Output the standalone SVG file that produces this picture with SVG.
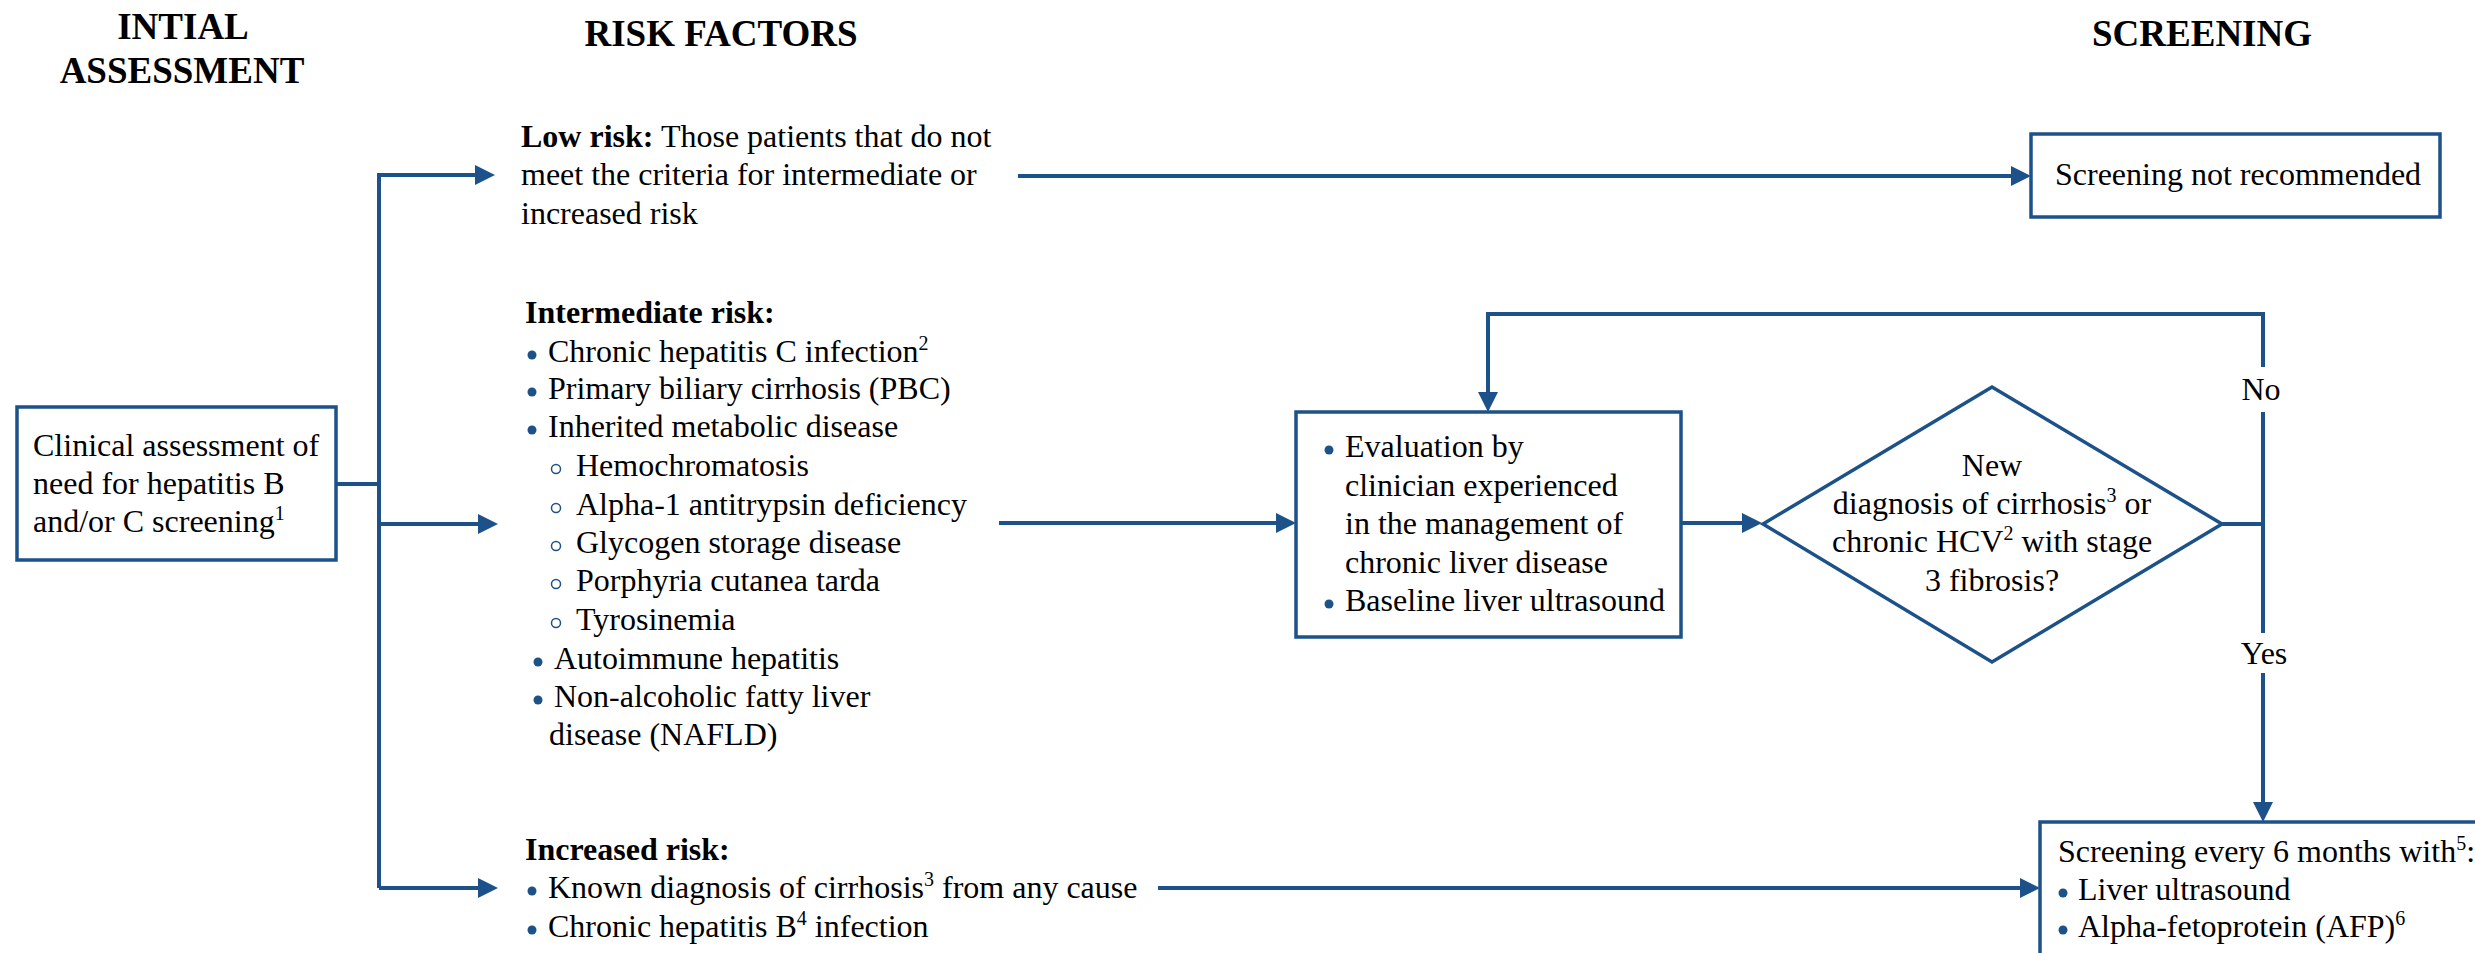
<svg xmlns="http://www.w3.org/2000/svg" width="2475" height="953" viewBox="0 0 2475 953">
<style>
text{font-family:"Liberation Serif","Times New Roman",serif;font-size:32px;fill:#000}
.h{font-weight:bold;font-size:37px;text-anchor:middle}
.b{font-weight:bold}
.c{text-anchor:middle}
.box{fill:#fff;stroke:#1c5289;stroke-width:3.5}
.ln{fill:none;stroke:#1c5289;stroke-width:4}
.dot{fill:#1c5289}
.ring{fill:none;stroke:#1c5289;stroke-width:1.5}
</style>
<defs>
<marker id="ah" markerUnits="userSpaceOnUse" viewBox="0 0 20 20" markerWidth="20" markerHeight="20" refX="14" refY="10" orient="auto">
<path d="M0,0 L20,10 L0,20 Z" fill="#1c5289"/>
</marker>
</defs>
<rect width="2475" height="953" fill="#fff"/>

<g id="headers">
<text class="h" x="183" y="39">INTIAL</text>
<text class="h" x="182" y="83">ASSESSMENT</text>
<text class="h" x="721" y="46">RISK FACTORS</text>
<text class="h" x="2202" y="46">SCREENING</text>
</g>

<g id="connectors">
<path class="ln" d="M336,484 H379"/>
<path class="ln" d="M379,175 V888"/>
<path class="ln" d="M377,175 H489" marker-end="url(#ah)"/>
<path class="ln" d="M379,524 H492" marker-end="url(#ah)"/>
<path class="ln" d="M379,888 H492" marker-end="url(#ah)"/>
<path class="ln" d="M1018,176 H2025" marker-end="url(#ah)"/>
<path class="ln" d="M999,523 H1290" marker-end="url(#ah)"/>
<path class="ln" d="M1158,888 H2034" marker-end="url(#ah)"/>
<path class="ln" d="M1681,523 H1756" marker-end="url(#ah)"/>
<path class="ln" d="M2222,524 H2263"/>
<path class="ln" d="M2263,367 V314 H1488 V406" marker-end="url(#ah)"/>
<path class="ln" d="M2263,412 V633"/>
<path class="ln" d="M2263,673 V816" marker-end="url(#ah)"/>
<text class="c" x="2261" y="400">No</text>
<text class="c" x="2264" y="664">Yes</text>
</g>

<g id="clinical">
<rect class="box" x="17" y="407" width="319" height="153"/>
<text x="33" y="456">Clinical assessment of</text>
<text x="33" y="494">need for hepatitis B</text>
<text x="33" y="532">and/or C screening<tspan dy="-12" font-size="20">1</tspan></text>
</g>

<g id="low-risk">
<text x="521" y="147"><tspan class="b">Low risk:</tspan> Those patients that do not</text>
<text x="521" y="185">meet the criteria for intermediate or</text>
<text x="521" y="224">increased risk</text>
</g>

<g id="intermediate-risk">
<text class="b" x="525" y="323">Intermediate risk:</text>
<circle class="dot" cx="532" cy="355" r="4.5"/>
<text x="548" y="362">Chronic hepatitis C infection<tspan dy="-12" font-size="20">2</tspan></text>
<circle class="dot" cx="532" cy="392" r="4.5"/>
<text x="548" y="399">Primary biliary cirrhosis (PBC)</text>
<circle class="dot" cx="532" cy="430" r="4.5"/>
<text x="548" y="437">Inherited metabolic disease</text>
<circle class="ring" cx="556" cy="469" r="4.5"/>
<text x="576" y="476">Hemochromatosis</text>
<circle class="ring" cx="556" cy="508" r="4.5"/>
<text x="576" y="515">Alpha-1 antitrypsin deficiency</text>
<circle class="ring" cx="556" cy="546" r="4.5"/>
<text x="576" y="553">Glycogen storage disease</text>
<circle class="ring" cx="556" cy="584" r="4.5"/>
<text x="576" y="591">Porphyria cutanea tarda</text>
<circle class="ring" cx="556" cy="623" r="4.5"/>
<text x="576" y="630">Tyrosinemia</text>
<circle class="dot" cx="538" cy="662" r="4.5"/>
<text x="554" y="669">Autoimmune hepatitis</text>
<circle class="dot" cx="538" cy="700" r="4.5"/>
<text x="554" y="707">Non-alcoholic fatty liver</text>
<text x="549" y="745">disease (NAFLD)</text>
</g>

<g id="increased-risk">
<text class="b" x="525" y="860">Increased risk:</text>
<circle class="dot" cx="532" cy="891" r="4.5"/>
<text x="548" y="898">Known diagnosis of cirrhosis<tspan dy="-12" font-size="20">3</tspan><tspan dy="12"> from any cause</tspan></text>
<circle class="dot" cx="532" cy="930" r="4.5"/>
<text x="548" y="937">Chronic hepatitis B<tspan dy="-12" font-size="20">4</tspan><tspan dy="12"> infection</tspan></text>
</g>

<g id="evaluation">
<rect class="box" x="1296" y="412" width="385" height="225"/>
<circle class="dot" cx="1329" cy="450" r="4.5"/>
<text x="1345" y="457">Evaluation by</text>
<text x="1345" y="496">clinician experienced</text>
<text x="1345" y="534">in the management of</text>
<text x="1345" y="573">chronic liver disease</text>
<circle class="dot" cx="1329" cy="604" r="4.5"/>
<text x="1345" y="611">Baseline liver ultrasound</text>
</g>

<g id="decision">
<polygon class="box" points="1992,387 2222,524 1992,662 1763,524"/>
<text class="c" x="1992" y="476">New</text>
<text class="c" x="1992" y="514">diagnosis of cirrhosis<tspan dy="-12" font-size="20">3</tspan><tspan dy="12"> or</tspan></text>
<text class="c" x="1992" y="552">chronic HCV<tspan dy="-12" font-size="20">2</tspan><tspan dy="12"> with stage</tspan></text>
<text class="c" x="1992" y="591">3 fibrosis?</text>
</g>

<g id="not-recommended">
<rect class="box" x="2031" y="134" width="409" height="83"/>
<text x="2055" y="185">Screening not recommended</text>
</g>

<g id="screening">
<rect class="box" x="2040" y="822" width="460" height="160"/>
<text x="2058" y="862">Screening every 6 months with<tspan dy="-12" font-size="20">5</tspan><tspan dy="12">:</tspan></text>
<circle class="dot" cx="2063" cy="893" r="4.5"/>
<text x="2078" y="900">Liver ultrasound</text>
<circle class="dot" cx="2063" cy="930" r="4.5"/>
<text x="2078" y="937">Alpha-fetoprotein (AFP)<tspan dy="-12" font-size="20">6</tspan></text>
</g>
</svg>
